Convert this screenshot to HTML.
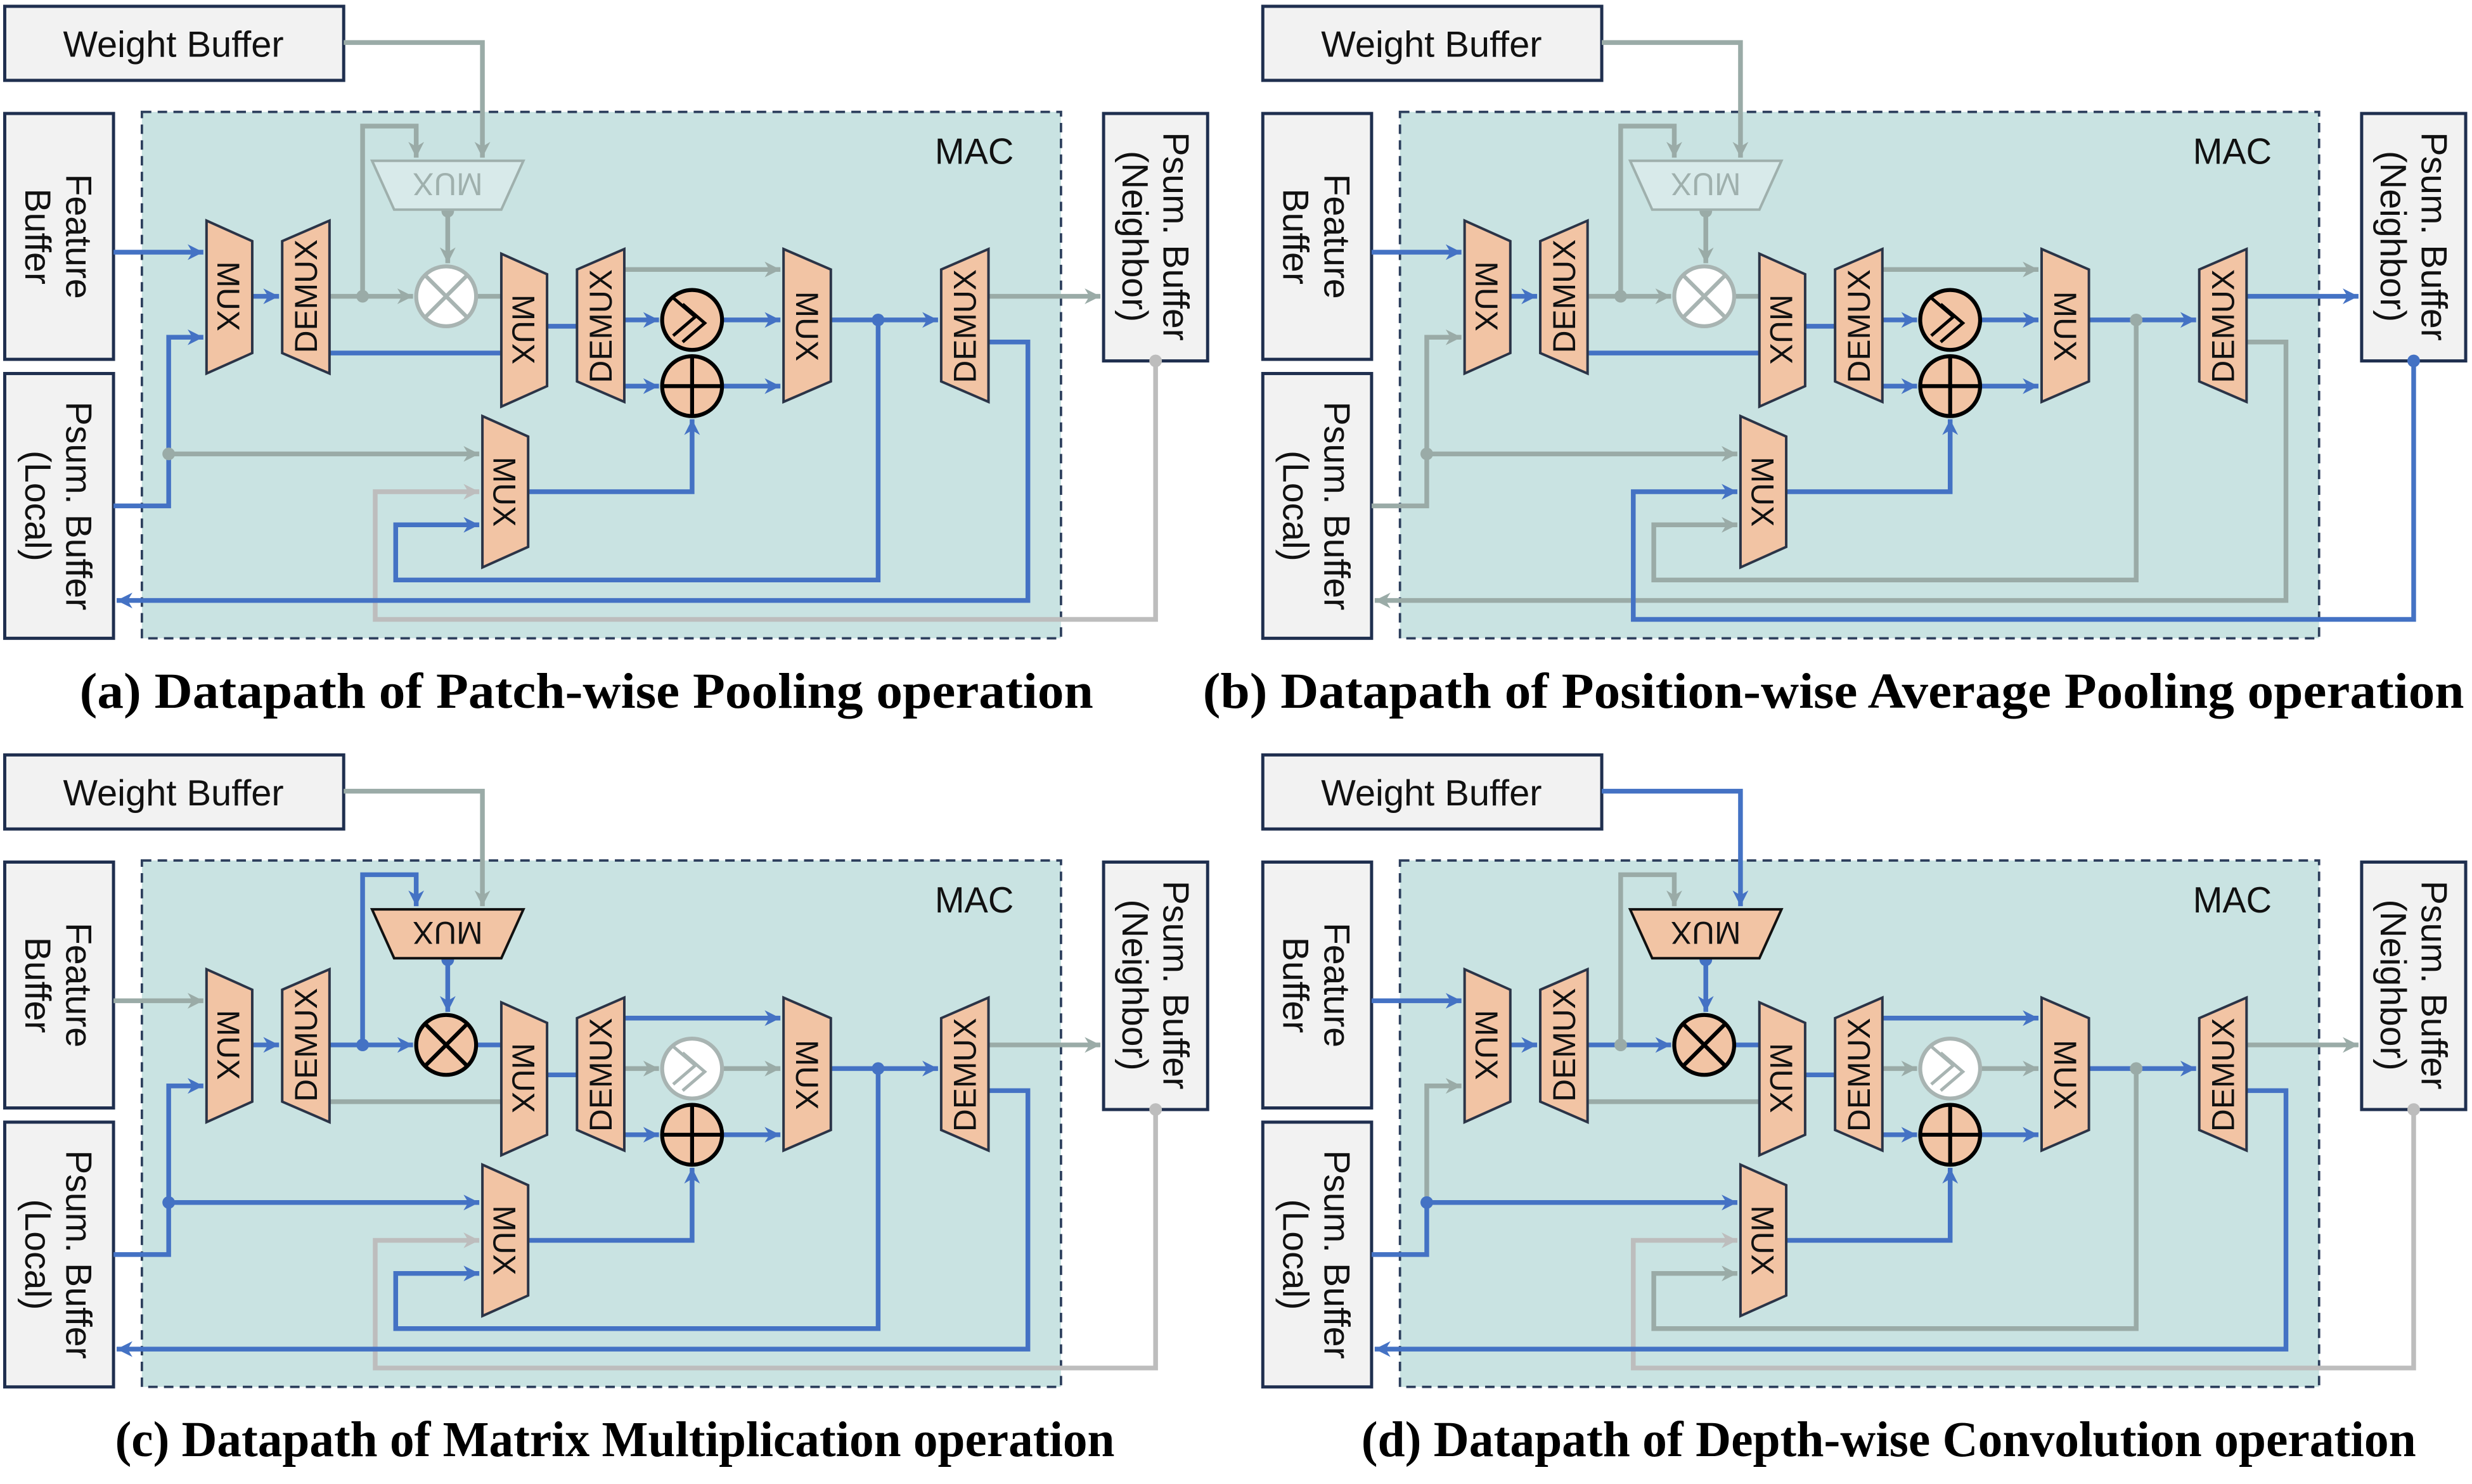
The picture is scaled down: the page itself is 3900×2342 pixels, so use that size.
<!DOCTYPE html>
<html><head><meta charset="utf-8"><style>
html,body{margin:0;padding:0;background:#fff}
svg{display:block}
text{font-family:"Liberation Sans",sans-serif}
.cap{font-family:"Liberation Serif",serif;font-weight:bold;font-size:32px}
.bt{font-size:23px;fill:#111}
.ml{font-size:20px;fill:#111}
.box{fill:#f2f2f2;stroke:#1f2f4f;stroke-width:2}
.mac{fill:#c9e3e2;stroke:#2c3e5c;stroke-width:1.5;stroke-dasharray:6 4}
.tz{fill:#f2c4a4;stroke:#2b3447;stroke-width:1.6}
.w{fill:none;stroke-width:3}
.B{stroke:#4472c4}.G{stroke:#9aaba7}.L{stroke:#bdbdbd}
.dB{fill:#4472c4}.dG{fill:#9aaba7}.dL{fill:#bdbdbd}
</style></head><body>
<svg width="3900" height="2342" viewBox="0 0 1568 941.6" xmlns="http://www.w3.org/2000/svg">
<defs>
<marker id="aB" markerUnits="userSpaceOnUse" markerWidth="11" markerHeight="10" refX="10" refY="5" orient="auto"><path d="M0,0 L10,5 L0,10 L3,5z" fill="#4472c4"/></marker>
<marker id="aG" markerUnits="userSpaceOnUse" markerWidth="11" markerHeight="10" refX="10" refY="5" orient="auto"><path d="M0,0 L10,5 L0,10 L3,5z" fill="#9aaba7"/></marker>
<marker id="aL" markerUnits="userSpaceOnUse" markerWidth="11" markerHeight="10" refX="10" refY="5" orient="auto"><path d="M0,0 L10,5 L0,10 L3,5z" fill="#bdbdbd"/></marker>
</defs>

<!-- ================= PANEL A ================= -->
<g transform="translate(0,0)">
<rect class="mac" x="90" y="71" width="583" height="334"/>
<text x="618" y="104" text-anchor="middle" class="bt" textLength="50" lengthAdjust="spacingAndGlyphs">MAC</text>
<rect class="box" x="3" y="4" width="215" height="47"/>
<text x="110" y="36" text-anchor="middle" class="bt" textLength="140" lengthAdjust="spacingAndGlyphs">Weight Buffer</text>
<rect class="box" x="3" y="72" width="69" height="156"/>
<text transform="translate(37,150) rotate(90)" text-anchor="middle" class="bt"><tspan x="0" y="-5">Feature</tspan><tspan x="0" y="21">Buffer</tspan></text>
<rect class="box" x="3" y="237" width="69" height="168"/>
<text transform="translate(37,321) rotate(90)" text-anchor="middle" class="bt"><tspan x="0" y="-5">Psum. Buffer</tspan><tspan x="0" y="21">(Local)</tspan></text>
<rect class="box" x="700" y="72" width="66" height="157"/>
<text transform="translate(733,150) rotate(90)" text-anchor="middle" class="bt"><tspan x="0" y="-5">Psum. Buffer</tspan><tspan x="0" y="21">(Neighbor)</tspan></text>

<path class="w L" d="M733,229 V393 H238 V312 H304" marker-end="url(#aL)"/><circle cx="733" cy="229" r="4" class="dL"/>
<path class="w G" d="M107,288 H304" marker-end="url(#aG)"/>
<path class="w G" d="M209,188 H262" marker-end="url(#aG)"/>
<path class="w G" d="M230,188 V80 H264 V100" marker-end="url(#aG)"/>
<path class="w G" d="M218,27 H306 V100" marker-end="url(#aG)"/>
<path class="w G" d="M284,133 V167" marker-end="url(#aG)"/>
<path class="w G" d="M302,188 H318"/>
<path class="w G" d="M396,171 H495" marker-end="url(#aG)"/>
<path class="w G" d="M627,188 H698" marker-end="url(#aG)"/>
<path class="w B" d="M72,160 H129" marker-end="url(#aB)"/>
<path class="w B" d="M72,321 H107 V288"/>
<path class="w B" d="M107,288 V214 H129" marker-end="url(#aB)"/>
<path class="w B" d="M160,188 H177" marker-end="url(#aB)"/>
<path class="w B" d="M209,224 H318"/>
<path class="w B" d="M347,207 H366"/>
<path class="w B" d="M396,203 H418" marker-end="url(#aB)"/>
<path class="w B" d="M458,203 H495" marker-end="url(#aB)"/>
<path class="w B" d="M396,245 H418" marker-end="url(#aB)"/>
<path class="w B" d="M458,245 H495" marker-end="url(#aB)"/>
<path class="w B" d="M527,203 H595" marker-end="url(#aB)"/>
<path class="w B" d="M627,217 H652 V381 H74" marker-end="url(#aB)"/>
<path class="w B" d="M557,203 V368 H251 V333 H304" marker-end="url(#aB)"/>
<path class="w B" d="M335,312 H439 V266" marker-end="url(#aB)"/>
<circle cx="107" cy="288" r="4" class="dG"/><circle cx="230" cy="188" r="4" class="dG"/><circle cx="284" cy="134" r="4" class="dG"/><circle cx="557" cy="203" r="4" class="dB"/>

<polygon points="236,102 332,102 318,133 250,133" fill="#d8eaea" stroke="#9fb0ad" stroke-width="1.6"/>
<text transform="translate(284,117) rotate(180)" text-anchor="middle" dy="7" class="ml" style="fill:#9fb0ad">MUX</text>
<polygon class="tz" points="131,140 160,153 160,224 131,237"/><text transform="translate(145,188) rotate(90)" text-anchor="middle" dy="7" class="ml">MUX</text>
<polygon class="tz" points="179,153 209,140 209,237 179,224"/><text transform="translate(194,188) rotate(-90)" text-anchor="middle" dy="7" class="ml">DEMUX</text>
<polygon class="tz" points="318,161 347,174 347,245 318,258"/><text transform="translate(332,209) rotate(90)" text-anchor="middle" dy="7" class="ml">MUX</text>
<polygon class="tz" points="366,171 396,158 396,255 366,242"/><text transform="translate(381,207) rotate(-90)" text-anchor="middle" dy="7" class="ml">DEMUX</text>
<polygon class="tz" points="497,158 527,171 527,242 497,255"/><text transform="translate(512,207) rotate(90)" text-anchor="middle" dy="7" class="ml">MUX</text>
<polygon class="tz" points="597,171 627,158 627,255 597,242"/><text transform="translate(612,207) rotate(-90)" text-anchor="middle" dy="7" class="ml">DEMUX</text>
<polygon class="tz" points="306,264 335,277 335,347 306,360"/><text transform="translate(320,312) rotate(90)" text-anchor="middle" dy="7" class="ml">MUX</text>
<g fill="#fff" stroke="#a8b4b2" stroke-width="2.5"><circle cx="283" cy="188" r="19"/><path d="M270,175 L296,201 M296,175 L270,201"/></g>
<g fill="#f2c4a4" stroke="#000" stroke-width="2.5"><circle cx="439" cy="203" r="19"/><path fill="none" stroke-width="2" d="M427,189 L441,201 L427,213 M433,193 L447,205 L433,217"/></g>
<g fill="#f2c4a4" stroke="#000" stroke-width="2.5"><circle cx="439" cy="245" r="19"/><path d="M420,245 H458 M439,226 V264"/></g>
<text x="372" y="449" text-anchor="middle" class="cap" textLength="643" lengthAdjust="spacingAndGlyphs">(a) Datapath of Patch-wise Pooling operation</text>
</g>

<!-- ================= PANEL B ================= -->
<g transform="translate(798,0)">
<rect class="mac" x="90" y="71" width="583" height="334"/>
<text x="618" y="104" text-anchor="middle" class="bt" textLength="50" lengthAdjust="spacingAndGlyphs">MAC</text>
<rect class="box" x="3" y="4" width="215" height="47"/>
<text x="110" y="36" text-anchor="middle" class="bt" textLength="140" lengthAdjust="spacingAndGlyphs">Weight Buffer</text>
<rect class="box" x="3" y="72" width="69" height="156"/>
<text transform="translate(37,150) rotate(90)" text-anchor="middle" class="bt"><tspan x="0" y="-5">Feature</tspan><tspan x="0" y="21">Buffer</tspan></text>
<rect class="box" x="3" y="237" width="69" height="168"/>
<text transform="translate(37,321) rotate(90)" text-anchor="middle" class="bt"><tspan x="0" y="-5">Psum. Buffer</tspan><tspan x="0" y="21">(Local)</tspan></text>
<rect class="box" x="700" y="72" width="66" height="157"/>
<text transform="translate(733,150) rotate(90)" text-anchor="middle" class="bt"><tspan x="0" y="-5">Psum. Buffer</tspan><tspan x="0" y="21">(Neighbor)</tspan></text>

<path class="w G" d="M72,321 H107 V288"/>
<path class="w G" d="M107,288 V214 H129" marker-end="url(#aG)"/>
<path class="w G" d="M107,288 H304" marker-end="url(#aG)"/>
<path class="w G" d="M209,188 H262" marker-end="url(#aG)"/>
<path class="w G" d="M230,188 V80 H264 V100" marker-end="url(#aG)"/>
<path class="w G" d="M218,27 H306 V100" marker-end="url(#aG)"/>
<path class="w G" d="M284,133 V167" marker-end="url(#aG)"/>
<path class="w G" d="M302,188 H318"/>
<path class="w G" d="M396,171 H495" marker-end="url(#aG)"/>
<path class="w G" d="M627,217 H652 V381 H74" marker-end="url(#aG)"/>
<path class="w G" d="M557,203 V368 H251 V333 H304" marker-end="url(#aG)"/>
<path class="w B" d="M733,229 V393 H238 V312 H304" marker-end="url(#aB)"/><circle cx="733" cy="229" r="4" class="dB"/>
<path class="w B" d="M72,160 H129" marker-end="url(#aB)"/>
<path class="w B" d="M160,188 H177" marker-end="url(#aB)"/>
<path class="w B" d="M209,224 H318"/>
<path class="w B" d="M347,207 H366"/>
<path class="w B" d="M396,203 H418" marker-end="url(#aB)"/>
<path class="w B" d="M458,203 H495" marker-end="url(#aB)"/>
<path class="w B" d="M396,245 H418" marker-end="url(#aB)"/>
<path class="w B" d="M458,245 H495" marker-end="url(#aB)"/>
<path class="w B" d="M527,203 H595" marker-end="url(#aB)"/>
<path class="w B" d="M627,188 H698" marker-end="url(#aB)"/>
<path class="w B" d="M335,312 H439 V266" marker-end="url(#aB)"/>
<circle cx="107" cy="288" r="4" class="dG"/><circle cx="230" cy="188" r="4" class="dG"/><circle cx="284" cy="134" r="4" class="dG"/><circle cx="557" cy="203" r="4" class="dG"/>

<polygon points="236,102 332,102 318,133 250,133" fill="#d8eaea" stroke="#9fb0ad" stroke-width="1.6"/>
<text transform="translate(284,117) rotate(180)" text-anchor="middle" dy="7" class="ml" style="fill:#9fb0ad">MUX</text>
<polygon class="tz" points="131,140 160,153 160,224 131,237"/><text transform="translate(145,188) rotate(90)" text-anchor="middle" dy="7" class="ml">MUX</text>
<polygon class="tz" points="179,153 209,140 209,237 179,224"/><text transform="translate(194,188) rotate(-90)" text-anchor="middle" dy="7" class="ml">DEMUX</text>
<polygon class="tz" points="318,161 347,174 347,245 318,258"/><text transform="translate(332,209) rotate(90)" text-anchor="middle" dy="7" class="ml">MUX</text>
<polygon class="tz" points="366,171 396,158 396,255 366,242"/><text transform="translate(381,207) rotate(-90)" text-anchor="middle" dy="7" class="ml">DEMUX</text>
<polygon class="tz" points="497,158 527,171 527,242 497,255"/><text transform="translate(512,207) rotate(90)" text-anchor="middle" dy="7" class="ml">MUX</text>
<polygon class="tz" points="597,171 627,158 627,255 597,242"/><text transform="translate(612,207) rotate(-90)" text-anchor="middle" dy="7" class="ml">DEMUX</text>
<polygon class="tz" points="306,264 335,277 335,347 306,360"/><text transform="translate(320,312) rotate(90)" text-anchor="middle" dy="7" class="ml">MUX</text>
<g fill="#fff" stroke="#a8b4b2" stroke-width="2.5"><circle cx="283" cy="188" r="19"/><path d="M270,175 L296,201 M296,175 L270,201"/></g>
<g fill="#f2c4a4" stroke="#000" stroke-width="2.5"><circle cx="439" cy="203" r="19"/><path fill="none" stroke-width="2" d="M427,189 L441,201 L427,213 M433,193 L447,205 L433,217"/></g>
<g fill="#f2c4a4" stroke="#000" stroke-width="2.5"><circle cx="439" cy="245" r="19"/><path d="M420,245 H458 M439,226 V264"/></g>
<text x="365" y="449" text-anchor="middle" class="cap" textLength="800" lengthAdjust="spacingAndGlyphs">(b) Datapath of Position-wise Average Pooling operation</text>
</g>

<!-- ================= PANEL C ================= -->
<g transform="translate(0,475)">
<rect class="mac" x="90" y="71" width="583" height="334"/>
<text x="618" y="104" text-anchor="middle" class="bt" textLength="50" lengthAdjust="spacingAndGlyphs">MAC</text>
<rect class="box" x="3" y="4" width="215" height="47"/>
<text x="110" y="36" text-anchor="middle" class="bt" textLength="140" lengthAdjust="spacingAndGlyphs">Weight Buffer</text>
<rect class="box" x="3" y="72" width="69" height="156"/>
<text transform="translate(37,150) rotate(90)" text-anchor="middle" class="bt"><tspan x="0" y="-5">Feature</tspan><tspan x="0" y="21">Buffer</tspan></text>
<rect class="box" x="3" y="237" width="69" height="168"/>
<text transform="translate(37,321) rotate(90)" text-anchor="middle" class="bt"><tspan x="0" y="-5">Psum. Buffer</tspan><tspan x="0" y="21">(Local)</tspan></text>
<rect class="box" x="700" y="72" width="66" height="157"/>
<text transform="translate(733,150) rotate(90)" text-anchor="middle" class="bt"><tspan x="0" y="-5">Psum. Buffer</tspan><tspan x="0" y="21">(Neighbor)</tspan></text>

<path class="w L" d="M733,229 V393 H238 V312 H304" marker-end="url(#aL)"/><circle cx="733" cy="229" r="4" class="dL"/>
<path class="w G" d="M72,160 H129" marker-end="url(#aG)"/>
<path class="w G" d="M218,27 H306 V100" marker-end="url(#aG)"/>
<path class="w G" d="M209,224 H318"/>
<path class="w G" d="M396,203 H418" marker-end="url(#aG)"/>
<path class="w G" d="M458,203 H495" marker-end="url(#aG)"/>
<path class="w G" d="M627,188 H698" marker-end="url(#aG)"/>
<path class="w B" d="M72,321 H107 V288"/>
<path class="w B" d="M107,288 V214 H129" marker-end="url(#aB)"/>
<path class="w B" d="M107,288 H304" marker-end="url(#aB)"/>
<path class="w B" d="M160,188 H177" marker-end="url(#aB)"/>
<path class="w B" d="M209,188 H262" marker-end="url(#aB)"/>
<path class="w B" d="M230,188 V80 H264 V100" marker-end="url(#aB)"/>
<path class="w B" d="M284,133 V167" marker-end="url(#aB)"/>
<path class="w B" d="M302,188 H318"/>
<path class="w B" d="M347,207 H366"/>
<path class="w B" d="M396,171 H495" marker-end="url(#aB)"/>
<path class="w B" d="M396,245 H418" marker-end="url(#aB)"/>
<path class="w B" d="M458,245 H495" marker-end="url(#aB)"/>
<path class="w B" d="M527,203 H595" marker-end="url(#aB)"/>
<path class="w B" d="M627,217 H652 V381 H74" marker-end="url(#aB)"/>
<path class="w B" d="M557,203 V368 H251 V333 H304" marker-end="url(#aB)"/>
<path class="w B" d="M335,312 H439 V266" marker-end="url(#aB)"/>
<circle cx="107" cy="288" r="4" class="dB"/><circle cx="230" cy="188" r="4" class="dB"/><circle cx="284" cy="134" r="4" class="dB"/><circle cx="557" cy="203" r="4" class="dB"/>

<polygon class="tz" points="236,102 332,102 318,133 250,133" style="stroke:#111"/>
<text transform="translate(284,117) rotate(180)" text-anchor="middle" dy="7" class="ml">MUX</text>
<polygon class="tz" points="131,140 160,153 160,224 131,237"/><text transform="translate(145,188) rotate(90)" text-anchor="middle" dy="7" class="ml">MUX</text>
<polygon class="tz" points="179,153 209,140 209,237 179,224"/><text transform="translate(194,188) rotate(-90)" text-anchor="middle" dy="7" class="ml">DEMUX</text>
<polygon class="tz" points="318,161 347,174 347,245 318,258"/><text transform="translate(332,209) rotate(90)" text-anchor="middle" dy="7" class="ml">MUX</text>
<polygon class="tz" points="366,171 396,158 396,255 366,242"/><text transform="translate(381,207) rotate(-90)" text-anchor="middle" dy="7" class="ml">DEMUX</text>
<polygon class="tz" points="497,158 527,171 527,242 497,255"/><text transform="translate(512,207) rotate(90)" text-anchor="middle" dy="7" class="ml">MUX</text>
<polygon class="tz" points="597,171 627,158 627,255 597,242"/><text transform="translate(612,207) rotate(-90)" text-anchor="middle" dy="7" class="ml">DEMUX</text>
<polygon class="tz" points="306,264 335,277 335,347 306,360"/><text transform="translate(320,312) rotate(90)" text-anchor="middle" dy="7" class="ml">MUX</text>
<g fill="#f2c4a4" stroke="#000" stroke-width="2.5"><circle cx="283" cy="188" r="19"/><path d="M270,175 L296,201 M296,175 L270,201"/></g>
<g fill="#fff" stroke="#a8b4b2" stroke-width="2.5"><circle cx="439" cy="203" r="19"/><path fill="none" stroke-width="2" d="M427,189 L441,201 L427,213 M433,193 L447,205 L433,217"/></g>
<g fill="#f2c4a4" stroke="#000" stroke-width="2.5"><circle cx="439" cy="245" r="19"/><path d="M420,245 H458 M439,226 V264"/></g>
<text x="390" y="449" text-anchor="middle" class="cap" textLength="634" lengthAdjust="spacingAndGlyphs">(c) Datapath of Matrix Multiplication operation</text>
</g>

<!-- ================= PANEL D ================= -->
<g transform="translate(798,475)">
<rect class="mac" x="90" y="71" width="583" height="334"/>
<text x="618" y="104" text-anchor="middle" class="bt" textLength="50" lengthAdjust="spacingAndGlyphs">MAC</text>
<rect class="box" x="3" y="4" width="215" height="47"/>
<text x="110" y="36" text-anchor="middle" class="bt" textLength="140" lengthAdjust="spacingAndGlyphs">Weight Buffer</text>
<rect class="box" x="3" y="72" width="69" height="156"/>
<text transform="translate(37,150) rotate(90)" text-anchor="middle" class="bt"><tspan x="0" y="-5">Feature</tspan><tspan x="0" y="21">Buffer</tspan></text>
<rect class="box" x="3" y="237" width="69" height="168"/>
<text transform="translate(37,321) rotate(90)" text-anchor="middle" class="bt"><tspan x="0" y="-5">Psum. Buffer</tspan><tspan x="0" y="21">(Local)</tspan></text>
<rect class="box" x="700" y="72" width="66" height="157"/>
<text transform="translate(733,150) rotate(90)" text-anchor="middle" class="bt"><tspan x="0" y="-5">Psum. Buffer</tspan><tspan x="0" y="21">(Neighbor)</tspan></text>

<path class="w L" d="M733,229 V393 H238 V312 H304" marker-end="url(#aL)"/><circle cx="733" cy="229" r="4" class="dL"/>
<path class="w G" d="M107,288 V214 H129" marker-end="url(#aG)"/>
<path class="w G" d="M230,188 V80 H264 V100" marker-end="url(#aG)"/>
<path class="w G" d="M209,224 H318"/>
<path class="w G" d="M396,203 H418" marker-end="url(#aG)"/>
<path class="w G" d="M458,203 H495" marker-end="url(#aG)"/>
<path class="w G" d="M627,188 H698" marker-end="url(#aG)"/>
<path class="w G" d="M557,203 V368 H251 V333 H304" marker-end="url(#aG)"/>
<path class="w B" d="M72,160 H129" marker-end="url(#aB)"/>
<path class="w B" d="M72,321 H107 V288"/>
<path class="w B" d="M107,288 H304" marker-end="url(#aB)"/>
<path class="w B" d="M160,188 H177" marker-end="url(#aB)"/>
<path class="w B" d="M209,188 H262" marker-end="url(#aB)"/>
<path class="w B" d="M218,27 H306 V100" marker-end="url(#aB)"/>
<path class="w B" d="M284,133 V167" marker-end="url(#aB)"/>
<path class="w B" d="M302,188 H318"/>
<path class="w B" d="M347,207 H366"/>
<path class="w B" d="M396,171 H495" marker-end="url(#aB)"/>
<path class="w B" d="M396,245 H418" marker-end="url(#aB)"/>
<path class="w B" d="M458,245 H495" marker-end="url(#aB)"/>
<path class="w B" d="M527,203 H595" marker-end="url(#aB)"/>
<path class="w B" d="M627,217 H652 V381 H74" marker-end="url(#aB)"/>
<path class="w B" d="M335,312 H439 V266" marker-end="url(#aB)"/>
<circle cx="107" cy="288" r="4" class="dB"/><circle cx="230" cy="188" r="4" class="dG"/><circle cx="284" cy="134" r="4" class="dB"/><circle cx="557" cy="203" r="4" class="dG"/>

<polygon class="tz" points="236,102 332,102 318,133 250,133" style="stroke:#111"/>
<text transform="translate(284,117) rotate(180)" text-anchor="middle" dy="7" class="ml">MUX</text>
<polygon class="tz" points="131,140 160,153 160,224 131,237"/><text transform="translate(145,188) rotate(90)" text-anchor="middle" dy="7" class="ml">MUX</text>
<polygon class="tz" points="179,153 209,140 209,237 179,224"/><text transform="translate(194,188) rotate(-90)" text-anchor="middle" dy="7" class="ml">DEMUX</text>
<polygon class="tz" points="318,161 347,174 347,245 318,258"/><text transform="translate(332,209) rotate(90)" text-anchor="middle" dy="7" class="ml">MUX</text>
<polygon class="tz" points="366,171 396,158 396,255 366,242"/><text transform="translate(381,207) rotate(-90)" text-anchor="middle" dy="7" class="ml">DEMUX</text>
<polygon class="tz" points="497,158 527,171 527,242 497,255"/><text transform="translate(512,207) rotate(90)" text-anchor="middle" dy="7" class="ml">MUX</text>
<polygon class="tz" points="597,171 627,158 627,255 597,242"/><text transform="translate(612,207) rotate(-90)" text-anchor="middle" dy="7" class="ml">DEMUX</text>
<polygon class="tz" points="306,264 335,277 335,347 306,360"/><text transform="translate(320,312) rotate(90)" text-anchor="middle" dy="7" class="ml">MUX</text>
<g fill="#f2c4a4" stroke="#000" stroke-width="2.5"><circle cx="283" cy="188" r="19"/><path d="M270,175 L296,201 M296,175 L270,201"/></g>
<g fill="#fff" stroke="#a8b4b2" stroke-width="2.5"><circle cx="439" cy="203" r="19"/><path fill="none" stroke-width="2" d="M427,189 L441,201 L427,213 M433,193 L447,205 L433,217"/></g>
<g fill="#f2c4a4" stroke="#000" stroke-width="2.5"><circle cx="439" cy="245" r="19"/><path d="M420,245 H458 M439,226 V264"/></g>
<text x="400" y="449" text-anchor="middle" class="cap" textLength="669" lengthAdjust="spacingAndGlyphs">(d) Datapath of Depth-wise Convolution operation</text>
</g>
</svg>
</body></html>
